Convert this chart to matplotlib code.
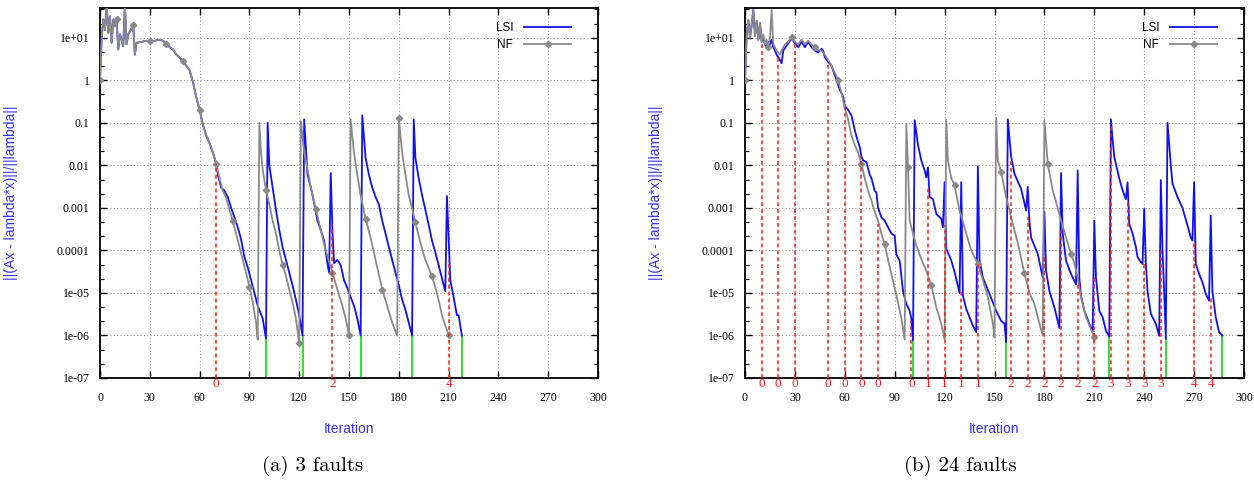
import numpy as np
import matplotlib.pyplot as plt
from matplotlib.ticker import FixedLocator, NullFormatter, NullLocator

# ---- data (iteration, residual) ----
# (a) 3 faults: both runs share the start up to iteration 70
a_head = [(0, 1.0), (1, 10), (2, 27), (3, 15), (4, 60), (5, 13), (6, 32), (7, 7.6),
          (8, 27), (9, 19), (10, 27), (11, 5.3), (12, 12), (13, 9), (14, 6.3), (15, 60),
          (16, 7), (17, 12), (18, 14), (20, 20), (21, 4), (22, 7.6), (25, 8), (28, 8.5),
          (30, 8.3), (33, 8.5), (36, 9), (38, 8.5), (40, 7), (42, 6), (44, 5.3), (46, 4),
          (48, 3.4), (50, 2.8), (52, 2.2), (54, 1.7), (56, 0.9), (58, 0.4), (60, 0.2),
          (62, 0.09), (64, 0.05), (66, 0.033), (68, 0.02), (70, 0.011)]
a_lsi = [(71, 6e-3), (73, 3e-3), (75, 2.5e-3), (77, 1.8e-3), (79, 1e-3), (81, 6e-4),
         (83, 3.5e-4), (85, 1.8e-4), (87, 7e-5), (89, 4e-5), (91, 2e-5), (93, 1e-5),
         (95, 5e-6), (96, 4e-6), (98, 2.5e-6), (100, 8.5e-7), (101, 0.1), (102, 0.01),
         (104, 3e-3), (106, 9e-4), (108, 3e-4), (110, 1.2e-4), (112, 6e-5), (114, 3e-5),
         (116, 1.5e-5), (118, 7e-6), (120, 3e-6), (122, 1e-6), (123, 0.12), (125, 6e-3),
         (127, 3e-3), (129, 1.3e-3), (131, 5e-4), (133, 3e-4), (135, 1.7e-4), (137, 5e-5),
         (138, 3e-5), (139, 6.6e-3), (140, 3e-4), (141, 5e-5), (143, 6e-5), (145, 4.5e-5),
         (147, 2e-5), (149, 1.3e-5), (151, 8e-6), (153, 5e-6), (155, 2.5e-6), (157, 1e-6),
         (158, 0.15), (160, 0.015), (162, 6e-3), (164, 3e-3), (166, 1.8e-3), (168, 1.2e-3),
         (170, 5e-4), (172, 2.5e-4), (174, 1.2e-4), (176, 6e-5), (178, 3e-5), (180, 1.5e-5),
         (182, 7e-6), (184, 4e-6), (186, 2e-6), (188, 1e-6), (189, 0.12), (190, 0.015),
         (192, 5e-3), (194, 2e-3), (196, 9e-4), (198, 4e-4), (200, 1.7e-4), (202, 9e-5),
         (204, 4.5e-5), (206, 2.2e-5), (208, 1.1e-5), (209, 1.9e-3), (210, 2e-4),
         (211, 2e-5), (213, 8e-6), (215, 3e-6), (216, 3e-6), (218, 1e-6)]
a_nf = [(72, 5e-3), (74, 2.5e-3), (76, 1.7e-3), (78, 9e-4), (80, 4.9e-4), (82, 2.5e-4),
        (84, 1.2e-4), (86, 6e-5), (88, 3e-5), (90, 1.4e-5), (92, 6e-6), (94, 2e-6),
        (95, 8e-7), (96, 0.1), (97, 0.02), (98, 8e-3), (100, 2.6e-3), (102, 1.2e-3),
        (104, 5e-4), (106, 2.5e-4), (108, 1e-4), (110, 4.6e-5), (112, 2.5e-5), (114, 1.2e-5),
        (116, 6e-6), (118, 2.5e-6), (120, 6.8e-7), (121, 0.11), (123, 0.02), (125, 8e-3),
        (127, 3e-3), (130, 9.5e-4), (133, 3e-4), (136, 1e-4), (140, 3e-5), (143, 1.2e-5),
        (146, 5e-6), (148, 2.5e-6), (150, 1e-6), (151, 0.12), (153, 0.02), (155, 6e-3),
        (157, 2e-3), (160, 5.5e-4), (163, 2e-4), (166, 6e-5), (170, 1.2e-5), (173, 5e-6),
        (176, 2e-6), (179, 1e-6), (180, 0.13), (182, 0.02), (184, 6e-3), (186, 2e-3),
        (190, 4.6e-4), (193, 1.5e-4), (196, 6e-5), (200, 2.5e-5), (203, 1e-5), (206, 3e-6),
        (210, 1e-6)]
a_fault_it = [70, 140, 210]
a_fault_top = [0.011, 4e-4, 6e-5]
a_fault_lbl = ['0', '2', '4']
a_restart_it = [100, 122, 157, 188, 218]
a_restart_top = [8.5e-7, 1e-6, 1e-6, 1e-6, 1e-6]

# (b) 24 faults
b_head = [(0, 1.0), (1, 12), (2, 26), (3, 10), (4, 20), (5, 45), (6, 11), (7, 25),
          (8, 9), (9, 22), (10, 8)]
b_lsi = [(11, 10), (12, 7), (13, 6), (14, 8), (15, 7), (16, 9), (17, 6), (18, 5), (19, 4),
         (20, 3.5), (21, 3.0), (22, 2.5), (23, 5), (25, 6.5), (27, 8.5), (28, 9.6), (30, 7.4),
         (32, 6), (34, 8), (36, 6), (38, 8), (40, 6), (42, 5), (44, 4.5), (46, 5.5), (47, 5),
         (48, 3.5), (50, 2.7), (52, 2.2), (55, 1.0), (57, 0.6), (59, 0.41), (60, 0.25),
         (62, 0.2), (64, 0.15), (66, 0.067), (68, 0.035), (69, 0.027), (70, 0.016),
         (71, 0.013), (73, 0.012), (75, 6e-3), (76, 5e-3), (78, 2.5e-3), (79, 2.3e-3),
         (80, 1e-3), (82, 6e-4), (84, 5e-4), (86, 3.5e-4), (88, 2.5e-4), (90, 2.2e-4),
         (91, 8e-5), (93, 5.7e-5), (95, 1.1e-5), (97, 5.5e-6), (99, 3.8e-6), (100, 2.5e-6),
         (101, 7.6e-7), (102, 0.115), (104, 0.03), (106, 0.013), (108, 7.6e-3), (109, 5.2e-3),
         (110, 9e-3), (111, 1.8e-3), (113, 1.6e-3), (115, 7.2e-4), (118, 5.5e-4),
         (119, 3.5e-4), (120, 4e-3), (121, 1.1e-4), (124, 5.8e-5), (126, 3.1e-5), (129, 1e-5),
         (130, 4e-3), (131, 8.7e-6), (133, 4.2e-6), (137, 1.7e-6), (139, 1.2e-6),
         (140, 9.5e-3), (141, 5.7e-5), (143, 2.3e-5), (147, 9.5e-6), (151, 3.8e-6),
         (154, 2.2e-6), (156, 1.9e-6), (157, 7e-7), (158, 0.12), (160, 0.016), (162, 6.3e-3),
         (166, 2.8e-3), (169, 8.7e-4), (170, 3.1e-3), (171, 4.6e-4), (172, 2e-4),
         (176, 8.3e-5), (179, 2.3e-5), (180, 8e-4), (181, 3.3e-5), (183, 1.1e-5),
         (186, 4.6e-6), (189, 1.5e-6), (190, 6.6e-3), (191, 2.5e-4), (193, 5.7e-5),
         (196, 2.8e-5), (199, 1.6e-5), (200, 7.6e-3), (201, 2.3e-5), (202, 8.7e-6),
         (204, 3.8e-6), (207, 1.9e-6), (209, 1.2e-6), (210, 5e-4), (211, 2.3e-5),
         (213, 3.8e-6), (215, 2.7e-6), (217, 1.3e-6), (219, 9.3e-7), (220, 0.12), (221, 0.04),
         (222, 0.016), (225, 4.9e-3), (227, 2.6e-3), (229, 1.6e-3), (230, 4e-3), (231, 4.2e-4),
         (233, 2.5e-4), (235, 1.2e-4), (236, 7e-5), (238, 5.2e-5), (239, 4.8e-5),
         (240, 9.5e-4), (241, 4.8e-5), (242, 1.1e-5), (244, 3.2e-6), (247, 1.9e-6),
         (249, 9.8e-7), (250, 4.5e-3), (251, 1e-4), (252, 1.1e-5), (253, 8.3e-7), (254, 0.1),
         (256, 0.01), (257, 3.7e-3), (260, 1.8e-3), (263, 1e-3), (266, 3.9e-4), (268, 2e-4),
         (269, 1.7e-4), (270, 4e-3), (271, 4.8e-5), (273, 2.8e-5), (275, 1.8e-5),
         (277, 9.5e-6), (279, 6.6e-6), (280, 6.6e-4), (281, 1.1e-5), (283, 2.7e-6),
         (285, 1.2e-6), (287, 1e-6)]
b_nf = [(11, 12), (12, 7), (13, 9), (14, 6), (15, 10), (16, 45), (17, 7), (18, 6), (19, 5),
        (20, 4.5), (21, 4), (22, 5), (24, 7), (26, 8), (28, 10.5), (30, 8), (32, 7), (34, 9),
        (36, 7), (38, 8.5), (40, 7), (42, 6), (44, 5), (46, 5), (48, 4), (50, 3), (52, 2.2),
        (54, 1.5), (56, 1.0), (58, 0.5), (60, 0.22), (62, 0.12), (64, 0.05), (66, 0.03),
        (68, 0.02), (70, 0.011), (72, 5e-3), (74, 2.5e-3), (76, 1.5e-3), (78, 8e-4),
        (80, 5e-4), (82, 2.5e-4), (84, 1.4e-4), (86, 6e-5), (88, 2.8e-5), (90, 1.3e-5),
        (92, 6e-6), (94, 2.5e-6), (96, 8e-7), (97, 0.095), (98, 9e-3), (99, 5e-4),
        (101, 2.5e-4), (103, 1.3e-4), (105, 8e-5), (107, 5e-5), (109, 3.3e-5), (112, 1.5e-5),
        (115, 4.6e-6), (118, 1.9e-6), (120, 8e-7), (121, 0.12), (122, 0.013), (124, 5e-3),
        (126, 3.4e-3), (129, 8.7e-4), (133, 2.5e-4), (136, 1e-4), (140, 4.8e-5), (143, 2e-5),
        (146, 8e-6), (149, 1.9e-6), (150, 9e-7), (151, 0.13), (152, 0.013), (154, 7e-3),
        (157, 1.8e-3), (161, 4.2e-4), (164, 1.5e-4), (168, 2.9e-5), (171, 1e-5),
        (174, 5.5e-6), (177, 1.9e-6), (179, 1e-6), (180, 0.115), (182, 0.011),
        (185, 2.6e-3), (188, 1e-3), (190, 5e-4), (193, 2e-4), (196, 8.3e-5), (198, 5e-5),
        (200, 2.3e-5), (202, 7.9e-6), (205, 2.7e-6), (208, 1.4e-6), (210, 9.3e-7)]
b_fault_it = [10, 20, 30, 50, 60, 70, 80, 100, 110, 120, 130, 140, 160, 170, 180, 190,
              200, 210, 220, 230, 240, 250, 270, 280]
b_fault_top = [8, 3.5, 7.4, 2.5, 0.23, 0.017, 4.2e-4, 2.2e-6, 3.2e-3, 4e-4, 1.1e-5, 5e-5,
               0.016, 6e-4, 7e-5, 3e-4, 1.6e-5, 2.3e-5, 0.1, 1.5e-3, 4.8e-5, 1e-4, 1.7e-4, 8e-6]
b_fault_lbl = list('000000001111222222333344')
b_restart_it = [101, 157, 219, 253, 287]
b_restart_top = [7.6e-7, 7e-7, 9.3e-7, 8.3e-7, 1e-6]

x_ticks = [0, 30, 60, 90, 120, 150, 180, 210, 240, 270, 300]
y_ticks = [1e-7, 1e-6, 1e-5, 1e-4, 1e-3, 1e-2, 1e-1, 1, 10]
y_labels = ['1e-07', '1e-06', '1e-05', '0.0001', '0.001', '0.01', '0.1', '1', '1e+01']

BLUE = '#1010f5'
GRAY = '#8a8a8a'
RED = '#ff1a1a'
GREEN = '#2ee02e'
LBL = '#3535ff'

plt.rcParams['font.family'] = ['Liberation Serif', 'DejaVu Serif']


def panel(ax, head, lsi, nf, step, f_it, f_top, f_lbl, r_it, r_top):
    ax.set_yscale('log')
    ax.set_xlim(0, 300)
    ax.set_ylim(1e-7, 50)

    ax.vlines(r_it, 1e-7, r_top, colors=GREEN, lw=1.4, zorder=2)
    ax.vlines(f_it, 1e-7, f_top, colors=RED, lw=1.1, linestyles=(0, (2.5, 2)), zorder=4)

    l_it, l_val = zip(*(head + lsi))
    n_it, n_val = zip(*(head + nf))
    ax.plot(l_it, l_val, color=BLUE, lw=1.3, label='LSI', zorder=3)
    marks = [i for i, t in enumerate(n_it) if t % step == 0]
    ax.plot(n_it, n_val, color=GRAY, lw=1.3, marker='D', ms=3.2, markevery=marks,
            label='NF', zorder=3.5)

    trans = ax.get_xaxis_transform()
    for t, s in zip(f_it, f_lbl):
        ax.text(t, -0.015, s, transform=trans, color=RED, fontsize=9.5,
                ha='center', va='center', clip_on=False)

    ax.set_xticks(x_ticks)
    ax.set_yticks(y_ticks, y_labels)
    minor = [10 ** (k + f) for k in range(-7, 2) for f in (1 / 3, 2 / 3)]
    ax.yaxis.set_minor_locator(FixedLocator(minor))
    ax.yaxis.set_minor_formatter(NullFormatter())
    ax.xaxis.set_minor_locator(NullLocator())
    ax.tick_params(which='both', direction='in', top=True, right=True)
    ax.tick_params(which='major', length=5, width=1)
    ax.tick_params(which='minor', length=3, width=0.8)
    ax.tick_params(axis='x', pad=10, labelsize=8.5)
    ax.tick_params(axis='y', pad=7.5, labelsize=8.5)
    ax.grid(True, which='major', color='#9a9a9a', ls=(0, (1, 2)), lw=0.8)
    for sp in ax.spines.values():
        sp.set_linewidth(1.3)

    ax.set_ylabel('||(Ax - lambda*x)||/||lambda||', color=LBL, fontsize=10,
                  family='Liberation Sans')
    ax.yaxis.set_label_coords(-0.165, 0.5)
    ax.set_xlabel('Iteration', color=LBL, fontsize=10, family='Liberation Sans')
    ax.xaxis.set_label_coords(0.5, -0.12)

    ax.legend(loc='upper right', bbox_to_anchor=(0.958, 0.978), frameon=False,
              markerfirst=False, borderpad=0, handlelength=4, handletextpad=0.9,
              labelspacing=0.45, prop={'family': 'Liberation Sans', 'size': 8.5})


fig = plt.figure(figsize=(12.54, 4.91), dpi=100)
ax_a = fig.add_axes([100 / 1254, 1 - 378 / 491, 498 / 1254, 370 / 491])
ax_b = fig.add_axes([745 / 1254, 1 - 378 / 491, 499 / 1254, 370 / 491])

panel(ax_a, a_head, a_lsi, a_nf, 10, a_fault_it, a_fault_top, a_fault_lbl,
      a_restart_it, a_restart_top)
panel(ax_b, b_head, b_lsi, b_nf, 14, b_fault_it, b_fault_top, b_fault_lbl,
      b_restart_it, b_restart_top)

fig.text(313 / 1254, 1 - 466 / 491, '(a) 3 faults', family='cmr10', fontsize=15,
         ha='center', va='center')
fig.text(960 / 1254, 1 - 466 / 491, '(b) 24 faults', family='cmr10', fontsize=15,
         ha='center', va='center')

fig.savefig('out.png', dpi=100)
